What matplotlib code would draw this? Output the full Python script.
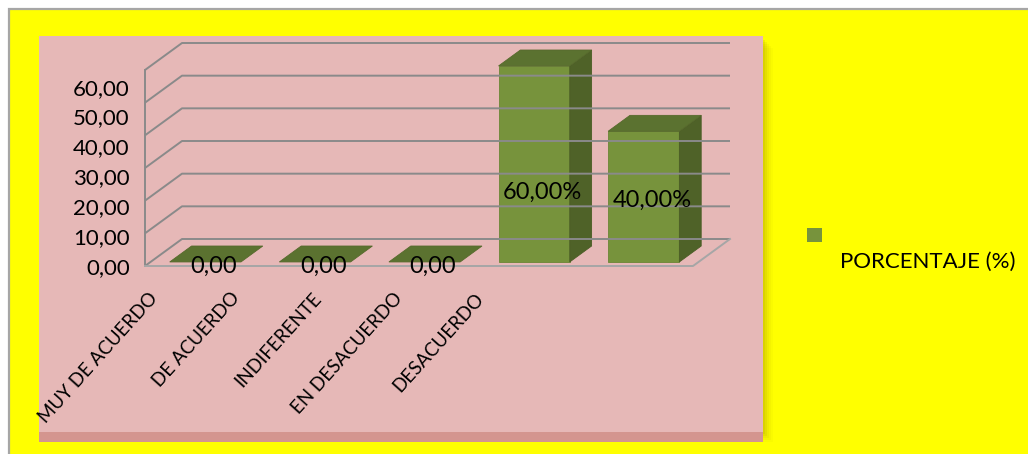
import numpy as np
import matplotlib
matplotlib.use("Agg")
import matplotlib.pyplot as plt
from matplotlib.patches import Rectangle, Polygon

plt.rcParams['font.family'] = ['Lato', 'DejaVu Sans']

# datos de la encuesta
categorias = ["MUY DE ACUERDO", "DE ACUERDO", "INDIFERENTE", "EN DESACUERDO", "DESACUERDO"]
porcentajes = [0.0, 0.0, 0.0, 60.0, 40.0]
ticks_y = [0, 10, 20, 30, 40, 50, 60]
serie = "PORCENTAJE (%)"

W, H = 1028, 454
fig = plt.figure(figsize=(W / 100, H / 100), dpi=100)
fig.patch.set_facecolor("white")


def caja(x0, y0, x1, y1):
    # rectangulo en pixeles (origen arriba a la izquierda) -> fracciones de figura
    return [x0 / W, 1 - y1 / H, (x1 - x0) / W, (y1 - y0) / H]


def rect_px(x0, y0, x1, y1, z=-5, **kw):
    fig.patches.append(Rectangle((x0 / W, 1 - y1 / H), (x1 - x0) / W, (y1 - y0) / H,
                                 transform=fig.transFigure, zorder=z, **kw))


# fondo amarillo con borde gris
rect_px(9, 9, W + 5, H + 5, facecolor="#FFFF00", edgecolor="#A6A6A6", lw=1.6)

# sombra del area de grafico
for k, a in enumerate([0.10, 0.08, 0.06, 0.04, 0.03]):
    rect_px(39 + 4 + k * 2, 36 + 4 + k * 2, 763 + 2 + k * 2, 432 + 2 + k * 2,
            facecolor="#7F6000", edgecolor="none", alpha=a)
rect_px(39, 36, 763, 442, facecolor="#D4958F", edgecolor="none")
rect_px(39, 36, 763, 432, facecolor="#E6B8B7", edgecolor="none")

# ejes principales: x categorias, y porcentaje (pared frontal)
AX0, AY0, AX1, AY1 = 145, 70, 693, 266
ax = fig.add_axes(caja(AX0, AY0, AX1, AY1))
ax.set_xlim(-0.5, len(categorias) - 0.5)
ax.set_ylim(ticks_y[0], ticks_y[-1])
ax.axis("off")

# profundidad del efecto 3D en pixeles
sx = (AX1 - AX0) / len(categorias)
sy = (AY1 - AY0) / (ticks_y[-1] - ticks_y[0])
ddx, ddy = 37 / sx, 27 / sy


def p(x, y, d):
    return (x + d * ddx, y + d * ddy)


gris = "#8A8A8A"
x_izq, x_der = -0.5, len(categorias) - 0.5
# lineas de division: pared lateral y pared del fondo
for v in ticks_y:
    xs, ys = zip(p(x_izq, v, 0), p(x_izq, v, 1), p(x_der, v, 1))
    ax.plot(xs, ys, color=gris, lw=1.4, clip_on=False, solid_capstyle="butt")
ax.plot([x_izq, x_izq], [ticks_y[0], ticks_y[-1]], color=gris, lw=1.4, clip_on=False)
# piso
xs, ys = zip(p(x_izq, 0, 0), p(x_der, 0, 0), p(x_der, 0, 1))
ax.plot(xs, ys, color="#A6A6A6", lw=1.4, clip_on=False)

# barras 3D
ancho = 0.325
df, db = 0.15, 0.74
for i, v in enumerate(porcentajes):
    x0, x1 = i - ancho, i + ancho
    if v > 0:
        ax.add_patch(Polygon([p(x0, 0, df), p(x1, 0, df), p(x1, v, df), p(x0, v, df)],
                             closed=True, facecolor="#77933C", edgecolor="#6A8535",
                             lw=0.6, clip_on=False))
        ax.add_patch(Polygon([p(x1, 0, df), p(x1, 0, db), p(x1, v, db), p(x1, v, df)],
                             closed=True, facecolor="#4F6228", edgecolor="#4A5C25",
                             lw=0.6, clip_on=False))
    ax.add_patch(Polygon([p(x0, v, df), p(x1, v, df), p(x1, v, db), p(x0, v, db)],
                         closed=True, facecolor="#5B7230", edgecolor="#56692C",
                         lw=0.6, clip_on=False))

# etiquetas de valor
for i, v in enumerate(porcentajes):
    txt = f"{v:.2f}".replace(".", ",") + ("%" if v > 0 else "")
    ax.text(i + 14 / sx, min(v, 45) / 2, txt, ha="center", va="center",
            fontsize=17, color="black", clip_on=False)

# ejes para las etiquetas de los ejes
lab = fig.add_axes(caja(AX0, AY0, AX1, AY1))
lab.patch.set_visible(False)
for s in lab.spines.values():
    s.set_visible(False)
lab.set_ylim((270 - AY1) / 3.05, (270 - AY0) / 3.05)
lab.set_yticks(ticks_y)
lab.set_yticklabels([f"{t:.2f}".replace(".", ",") for t in ticks_y], fontsize=16)
lab.set_xlim((AX0 - 155) / 81.5, (AX1 - 155) / 81.5)
lab.set_xticks(range(len(categorias)))
lab.set_xticklabels(categorias, rotation=48, ha="right", va="center",
                    rotation_mode="anchor", fontsize=13.5)
lab.tick_params(axis="both", length=0)
lab.tick_params(axis="y", pad=11)
lab.tick_params(axis="x", pad=21)

# leyenda
rect_px(807, 228, 822, 242, facecolor="#77933C", edgecolor="none")
fig.text(840 / W, 1 - 262 / H, serie, ha="left", va="center", fontsize=16)

fig.savefig("out.png", dpi=100)
